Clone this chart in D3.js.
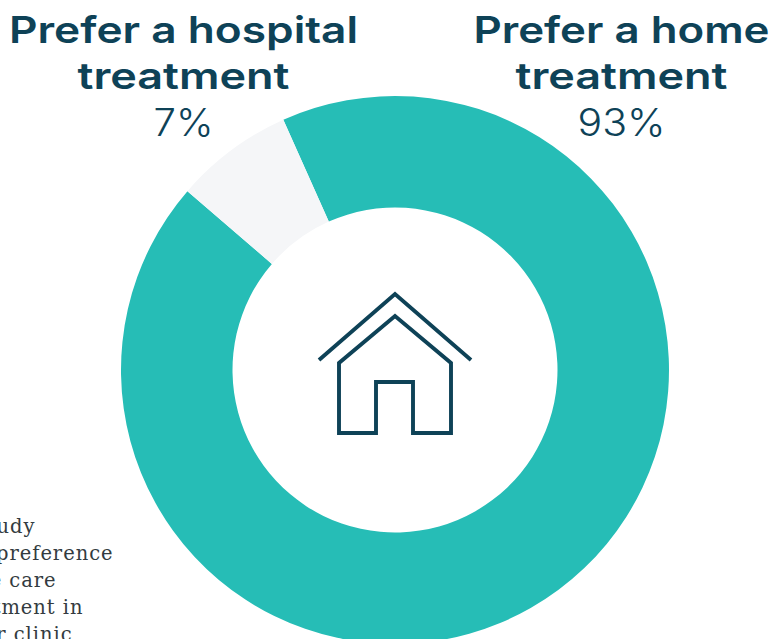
<!DOCTYPE html>
<html>
<head>
<meta charset="utf-8">
<script src="https://cdn.jsdelivr.net/npm/d3@7"></script>
<style>
  html, body { margin: 0; padding: 0; background: #fff; overflow: hidden; }
  svg { display: block; }
</style>
</head>
<body>
<svg id="chart" width="773" height="639"></svg>
<script>
// Treatment preference shares, in percent
const categories = ["Prefer a home treatment", "Prefer a hospital treatment"];
const shares = [93, 7];
const ringColors = ["#26bdb6", "#f5f6f8"];
const headingLines = [["Prefer a home", "treatment"], ["Prefer a hospital", "treatment"]];
const noteLines = ["study", "preference", "home care", "treatment in", "or clinic"];

const ink = "#0e4257";
const svg = d3.select("#chart");
const cx = 395, cy = 370, outerR = 274, innerR = 162.5;

// The small slice is centred about 36.7 degrees left of twelve o'clock
const gapMid = -36.65 * Math.PI / 180;
const gapSpan = shares[1] / d3.sum(shares) * 2 * Math.PI;
const startAngle = gapMid + gapSpan / 2;

const pie = d3.pie().sort(null).value(d => d)
  .startAngle(startAngle).endAngle(startAngle + 2 * Math.PI);
const arc = d3.arc().innerRadius(innerR).outerRadius(outerR);

svg.append("g").attr("transform", `translate(${cx},${cy})`)
  .selectAll("path").data(pie(shares)).join("path")
  .attr("d", arc)
  .attr("fill", (d, i) => ringColors[i]);

// Headings above the ring; the wide setting comes from stretching the glyphs
const headingSpecs = [
  { x: 621.5, widths: [296, 212], pct: 88 },
  { x: 183.5, widths: [349, 212], pct: 60 }
];
categories.forEach((name, i) => {
  const spec = headingSpecs[i];
  const g = svg.append("g").attr("class", "heading").attr("aria-label", name);
  headingLines[i].forEach((line, j) => {
    g.append("text")
      .attr("x", spec.x).attr("y", 42.5 + j * 46.5)
      .attr("text-anchor", "middle")
      .attr("font-family", "Inter, Lato, sans-serif")
      .attr("font-weight", 600).attr("font-size", 37)
      .attr("fill", ink)
      .attr("textLength", spec.widths[j]).attr("lengthAdjust", "spacingAndGlyphs")
      .text(line);
  });
  g.append("text")
    .attr("x", spec.x).attr("y", 135.5)
    .attr("text-anchor", "middle")
    .attr("font-family", "Inter, Lato, sans-serif")
    .attr("font-weight", 300).attr("font-size", 38)
    .attr("fill", ink)
    .attr("textLength", spec.pct).attr("lengthAdjust", "spacingAndGlyphs")
    .text(shares[i] + "%");
});

// House glyph in the middle of the ring
const housePoints = [[339, 433], [339, 363], [395, 316], [451, 363], [451, 433], [413, 433], [413, 382], [376, 382], [376, 433]];
const roofPoints = [[319, 360], [395, 294], [471, 360]];
const polyline = d3.line();
const icon = svg.append("g").attr("fill", "none").attr("stroke", ink).attr("stroke-width", 3.9).attr("stroke-linejoin", "miter");
icon.append("path").attr("d", polyline(housePoints) + "Z");
icon.append("path").attr("d", polyline(roofPoints));

// Body copy running in from the left edge
svg.append("g").selectAll("text").data(noteLines).join("text")
  .attr("x", (d, i) => [35.5, 113.5, 56.5, 83.5, 72.5][i])
  .attr("y", (d, i) => 533 + i * 27)
  .attr("text-anchor", "end")
  .attr("font-family", "'DejaVu Serif', serif")
  .attr("font-size", 19.5)
  .attr("letter-spacing", 0.95)
  .attr("fill", "#333b40")
  .text(d => d);
</script>
</body>
</html>
